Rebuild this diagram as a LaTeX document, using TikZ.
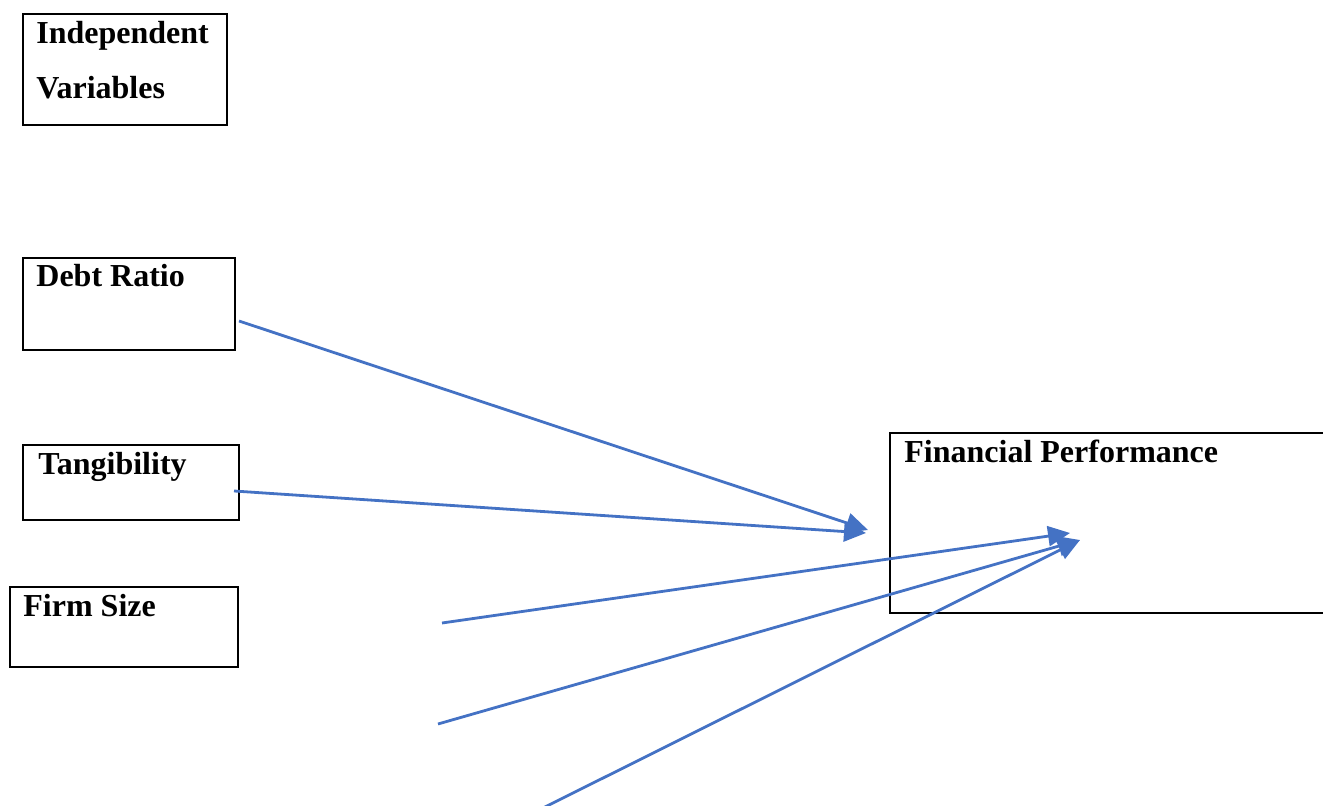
\documentclass[tikz,border=0pt]{standalone}
\usepackage{fontspec}
\setmainfont{Liberation Serif}
\usetikzlibrary{arrows.meta, positioning}
\definecolor{linkblue}{RGB}{68,114,196}
\tikzstyle{varbox} = [rectangle, draw, line width=1pt, anchor=north west, inner sep=0pt]
\tikzstyle{lbl} = [anchor=base west, inner sep=0pt, font=\fontsize{16}{27.5}\selectfont\bfseries, align=left]
\tikzstyle{arrow} = [linkblue, line width=1.4pt, -{Triangle[length=11pt, width=10pt]}]

\begin{document}
\begin{tikzpicture}[x=0.5pt, y=-0.5pt]
    \useasboundingbox (0,0) rectangle (1323,806);
    \node[varbox, minimum width=102pt, minimum height=55.5pt] (ivbox) at (22,13) {};
    \node[varbox, minimum width=106pt, minimum height=46pt] (debt) at (22,257) {};
    \node[varbox, minimum width=108pt, minimum height=37.5pt] (tang) at (22,444) {};
    \node[varbox, minimum width=114pt, minimum height=40pt] (size) at (9,586) {};
    \node[varbox, minimum width=222pt, minimum height=90pt] (perf) at (889,432) {};
    \node[lbl] (ivtext) at (36,99) {Independent\\Variables};
    \node[lbl] (debttext) at (36,287) {Debt Ratio};
    \node[lbl] (tangtext) at (38,475) {Tangibility};
    \node[lbl] (sizetext) at (23,617) {Firm Size};
    \node[lbl] (perftext) at (904,463) {Financial Performance};
    % arrow ends
    \coordinate (d0) at (239,321);
    \coordinate (t0) at (234,491);
    \coordinate (s1) at (442,623);
    \coordinate (s2) at (438,724);
    \coordinate (s3) at (541,809);
    \coordinate (h1) at (868,530);
    \coordinate (h2) at (866,533);
    \coordinate (h3) at (1070,533);
    \coordinate (h4) at (1080,540);
    \draw[arrow] (d0) -- (h1);
    \draw[arrow] (t0) -- (h2);
    \draw[arrow] (s1) -- (h3);
    \draw[arrow] (s2) -- (h4);
    \draw[arrow] (s3) -- (h4);
  \end{tikzpicture}
\end{document}
